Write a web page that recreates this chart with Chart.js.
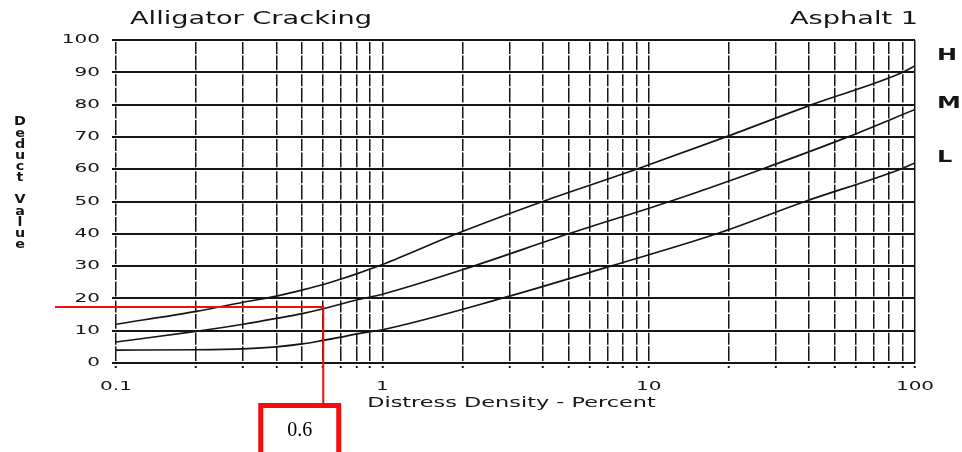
<!DOCTYPE html>
<html>
<head>
<meta charset="utf-8">
<title>Alligator Cracking - Asphalt 1</title>
<script src="https://cdn.jsdelivr.net/npm/chart.js@4.4.0/dist/chart.umd.min.js"></script>
<style>
  html, body { margin: 0; padding: 0; background: #fff; }
  canvas { display: block; }
</style>
</head>
<body>
<canvas id="chart" width="962" height="452"></canvas>
<script>
// deduct value curves (x = distress density %)
const densityH = [0.1, 0.2, 0.3, 0.4, 0.5, 0.6, 0.7, 0.8, 1, 1.9, 4, 9, 19.5, 41, 90, 100];
const deductH  = [12, 16, 18.8, 20.7, 22.6, 24.3, 26, 27.6, 30.5, 40, 50, 60, 70, 80, 90, 92];

const densityM = [0.1, 0.2, 0.3, 0.4, 0.5, 0.6, 0.8, 1, 2.2, 5, 12, 26.6, 56, 100];
const deductM  = [6.5, 9.8, 12, 13.8, 15.3, 16.8, 19.5, 21.3, 30, 40, 50, 60, 70, 78.5];

const densityL = [0.1, 0.2, 0.3, 0.4, 0.5, 0.6, 0.7, 0.8, 1, 2.8, 7.2, 18, 38.6, 88, 100];
const deductL  = [4, 4.1, 4.4, 5, 5.9, 7, 8, 9, 10.3, 20, 30, 40, 50, 60, 62];

// severity letters and the deduct value they sit at on the right margin
const curveNames = ['H', 'M', 'L'];
const curveNameAt = [95, 80, 63.5];

// vertical grid at every 1..9 x 10^n, labels only on the decades
const xGridValues = [0.1, 0.2, 0.3, 0.4, 0.5, 0.6, 0.7, 0.8, 0.9,
                     1, 2, 3, 4, 5, 6, 7, 8, 9,
                     10, 20, 30, 40, 50, 60, 70, 80, 90, 100];
const xLabelValues = [0.1, 1, 10, 100];
const yTickValues = [0, 10, 20, 30, 40, 50, 60, 70, 80, 90, 100];

// red read-off marker
const pickDensity = 0.6;
const pickDeduct = 17.3;
const pickLabel = '0.6';

const INK = '#151515';
const RED = '#f40d0d';
const FONT = '"DejaVu Sans"';
const SX = 1.6; // the scan's lettering is an extended face, so widen DejaVu

function toPoints(xs, ys) {
  return xs.map((x, i) => ({ x: x, y: ys[i] }));
}

function wideText(ctx, text, x, y, align, sx) {
  ctx.save();
  ctx.translate(x, y);
  ctx.scale(sx || SX, 1);
  ctx.textAlign = align;
  ctx.fillText(text, 0, 0);
  ctx.restore();
}

const pciText = {
  id: 'pciText',
  beforeDraw(chart) {
    const ctx = chart.ctx;
    ctx.save();
    ctx.fillStyle = '#fff';
    ctx.fillRect(0, 0, chart.width, chart.height);
    ctx.restore();
  },
  afterDraw(chart) {
    const ctx = chart.ctx;
    const xs = chart.scales.x;
    const ys = chart.scales.y;
    ctx.save();
    ctx.fillStyle = INK;
    ctx.textBaseline = 'middle';

    // tick labels, placed by the chart's own scales
    ctx.font = '12.5px ' + FONT;
    yTickValues.forEach(v => wideText(ctx, String(v), 100, ys.getPixelForValue(v), 'right'));
    xLabelValues.forEach(v => wideText(ctx, String(v), xs.getPixelForValue(v), 387, 'center'));

    ctx.font = '17px ' + FONT;
    wideText(ctx, 'Alligator Cracking', 130, 20, 'left');
    wideText(ctx, 'Asphalt 1', 790, 20, 'left');

    ctx.font = '14px ' + FONT;
    wideText(ctx, 'Distress Density - Percent', (xs.left + xs.right) / 2 - 4, 403, 'center');

    // severity letters on the right margin
    ctx.font = 'bold 15px ' + FONT;
    curveNames.forEach((n, i) => wideText(ctx, n, 937, ys.getPixelForValue(curveNameAt[i]), 'left'));

    // stacked y title
    ctx.font = 'bold 13px ' + FONT;
    let ty = 122;
    'Deduct Value'.split('').forEach(ch => {
      if (ch === ' ') { ty += 10.8; return; }
      wideText(ctx, ch, 20, ty, 'center', 1.1);
      ty += 11.2;
    });

    // red read-off line and box
    const px = xs.getPixelForValue(pickDensity);
    const py = ys.getPixelForValue(pickDeduct);
    ctx.strokeStyle = RED;
    ctx.lineWidth = 2;
    ctx.beginPath();
    ctx.moveTo(55, py);
    ctx.lineTo(px, py);
    ctx.lineTo(px, 404);
    ctx.stroke();

    ctx.lineWidth = 5;
    ctx.fillStyle = '#fff';
    ctx.fillRect(px - 62.5, 405.5, 78, 50);
    ctx.strokeRect(px - 62.5, 405.5, 78, 50);
    ctx.fillStyle = '#000';
    ctx.font = '20px "Liberation Serif"';
    ctx.textAlign = 'center';
    ctx.fillText(pickLabel, px - 23.5, 431);
    ctx.restore();
  }
};

const curveStyle = {
  borderColor: INK,
  borderWidth: 1.7,
  pointRadius: 0,
  fill: false,
  cubicInterpolationMode: 'monotone'
};

new Chart(document.getElementById('chart'), {
  type: 'line',
  data: {
    datasets: [
      Object.assign({ label: curveNames[0], data: toPoints(densityH, deductH) }, curveStyle),
      Object.assign({ label: curveNames[1], data: toPoints(densityM, deductM) }, curveStyle),
      Object.assign({ label: curveNames[2], data: toPoints(densityL, deductL) }, curveStyle)
    ]
  },
  options: {
    responsive: false,
    animation: false,
    layout: { padding: { left: 0, top: 40, right: 47, bottom: 0 } },
    plugins: {
      legend: { display: false },
      tooltip: { enabled: false }
    },
    scales: {
      x: {
        type: 'logarithmic',
        min: 0.1,
        max: 100,
        afterBuildTicks: s => { s.ticks = xGridValues.map(v => ({ value: v })); },
        afterFit: s => { s.height = 89; },
        ticks: { display: false, autoSkip: false },
        grid: {
          color: INK,
          lineWidth: 1.5,
          drawTicks: true,
          tickLength: 7,
          tickColor: INK,
          tickWidth: 2,
          tickBorderDash: [0, 3, 2, 20]
        },
        border: {
          display: false,
          dash: c => (c.tick && c.tick.value === 100) ? [] : [12, 1.5, 14.8, 4],
          dashOffset: 30.3
        }
      },
      y: {
        min: 0,
        max: 100,
        afterBuildTicks: s => { s.ticks = yTickValues.map(v => ({ value: v })); },
        afterFit: s => { s.width = 116; },
        ticks: { display: false },
        grid: {
          color: INK,
          lineWidth: 2,
          tickLength: 4
        },
        border: { display: false }
      }
    }
  },
  plugins: [pciText]
});
</script>
</body>
</html>
